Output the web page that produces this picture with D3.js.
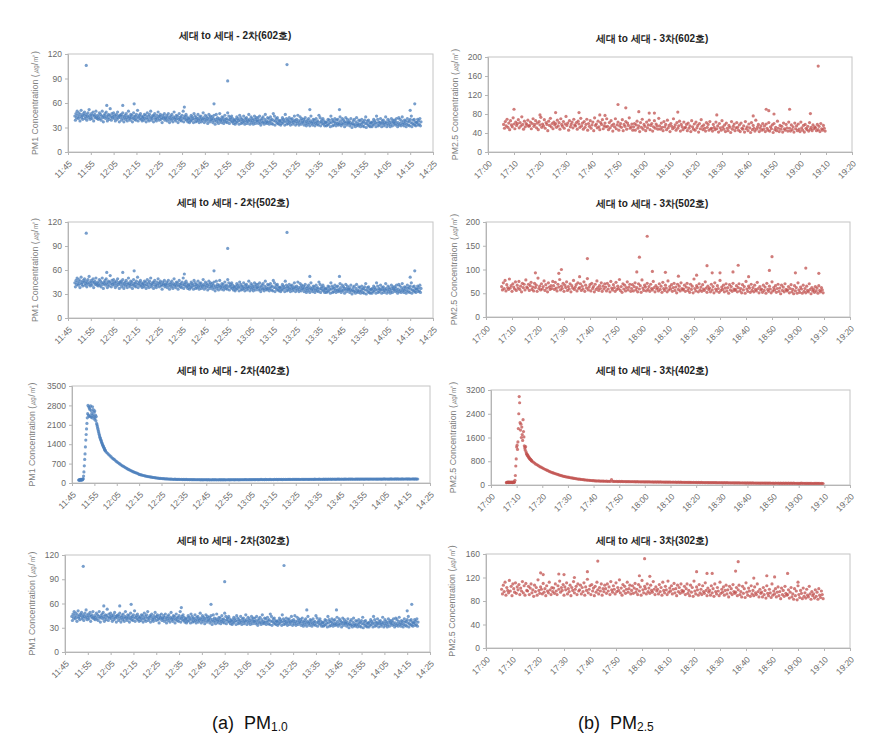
<!DOCTYPE html>
<html>
<head>
<meta charset="utf-8">
<script src="https://cdn.jsdelivr.net/npm/d3@7"></script>
<style>
  body { margin: 0; background: #fff; }
  text { font-family: "Liberation Sans", Arial, sans-serif; }
</style>
</head>
<body>
<svg id="svg" width="878" height="753"></svg>
<script>
const parseTime = d3.timeParse("%H:%M");
const fmt = d3.timeFormat("%H:%M");

// x tick labels
const pm1TimeTicks = ["11:45", "11:55", "12:05", "12:15", "12:25", "12:35", "12:45", "12:55",
  "13:05", "13:15", "13:25", "13:35", "13:45", "13:55", "14:05", "14:15", "14:25"];
const pm25TimeTicks = ["17:00", "17:10", "17:20", "17:30", "17:40", "17:50", "18:00", "18:10",
  "18:20", "18:30", "18:40", "18:50", "19:00", "19:10", "19:20"];

// y tick labels
const pm1BandTicks = [0, 30, 60, 90, 120];
const pm1PeakTicks = [0, 700, 1400, 2100, 2800, 3500];
const pm25Ticks602 = [0, 40, 80, 120, 160, 200];
const pm25Ticks502 = [0, 50, 100, 150, 200];
const pm25Ticks402 = [0, 800, 1600, 2400, 3200];
const pm25Ticks302 = [0, 40, 80, 120, 160];

// 2차 PM1, readings every 15 s from 11:48 (602, 502, 302 show the same record)
const pm1Band = `
44 39 47 42 50 45 41 48 43 38 46 51 42 44 40 47 45 49 41 43 46 39 44 48 42 52 45 40 43 47 41 45 49 38 44 46 42 50 43 41
45 40 43 48 41 46 39 44 50 42 37 45 43 47 41 49 44 38 42 46 40 45 53 43 39 47 42 44 48 41 45 38 43 46 40 49 42 44 37 45
42 46 39 44 48 41 37 43 45 40 47 42 38 44 50 41 43 39 46 42 45 37 41 48 43 40 44 39 46 42 51 38 43 45 41 47 40 44 38 42
43 39 46 41 45 37 42 48 40 44 38 46 42 50 39 43 41 45 37 44 47 40 42 38 45 41 49 43 39 44 46 40 42 36 45 41 43 47 39 42
41 45 38 43 47 40 36 42 44 39 46 41 37 43 49 40 42 38 45 41 44 36 40 47 42 39 43 38 45 41 50 37 42 44 40 46 39 43 37 41
40 36 42 38 45 39 43 41 36 47 40 44 37 42 38 41 46 39 36 43 40 44 37 41 39 48 42 36 40 45 38 43 41 35 39 46 42 37 44 40
39 43 36 41 45 38 34 40 46 37 42 39 35 41 47 38 40 36 43 39 42 35 38 45 40 37 41 36 48 39 44 35 40 42 38 44 37 41 35 39
38 34 40 36 43 37 41 39 34 45 38 42 35 40 36 39 44 37 34 41 38 42 35 39 37 46 40 34 38 43 36 41 39 34 37 44 40 35 42 38
38 42 35 39 44 36 33 39 41 36 43 37 34 40 46 36 38 35 42 37 41 34 37 43 39 35 40 34 47 38 44 33 38 41 36 42 35 39 34 38
37 33 39 35 42 36 40 38 33 46 37 41 34 39 35 38 42 36 33 40 37 41 34 38 36 44 39 33 37 40 35 45 38 33 36 43 39 34 41 37
36 40 33 38 42 35 32 37 39 34 41 36 32 38 44 35 37 33 40 36 39 32 35 41 37 34 38 33 45 36 42 32 37 39 35 41 34 38 32 36
36 32 37 33 40 34 39 36 31 44 36 40 32 38 33 37 41 35 32 39 35 40 33 36 34 43 38 32 35 41 34 39 37 31 35 42 37 33 40 36
35 38 32 36 41 34 30 35 38 33 40 34 31 37 42 33 35 32 39 34 38 31 34 40 36 32 37 31 39 35 43 30 35 38 33 39 32 36 31 35
36 31 37 33 40 34 38 36 31 44 35 40 32 37 33 36 41 35 31 38 35 39 32 36 34 43 37 31 35 40 33 38 36 31 34 41 37 32 39 36
35 39 33 37 41 34 31 36 42 33 40 35 32 38 43 34 36 32 39 35 38 31 34 41 37 33 38 32 40 36 44 31 35 39 34 40 33 37 32 36
36 40 33 38 34 41 32 37`;
const pm1BandOutliers = [["11:53", 106], ["12:55", 87], ["13:21", 107], ["12:49", 59], ["14:17", 59],
  ["12:14", 59], ["12:09", 57], ["12:02", 57], ["12:36", 55], ["13:44", 52], ["14:15", 51], ["13:31", 52]];

// 2차(402호) PM1: 10 s readings over the peak, then 30 s readings
const pm1Peak402 = `
105 118 98 125 110 132 100 115 128 108 120 135
160 250 400 620 850 1050 1300 1550 1750 1950 2150 2350
2500 2800 2450 2750 2400 2700 2650 2420 2780 2380 2600 2500
2350 2750 2450 2650 2400 2550 2300 2600 2350 2450 2250 2400
2150 2100 2040 1980 1920 1860 1800 1750 1700 1650 1610 1570
1530 1490 1450 1420 1380 1350 1320 1290 1260 1230 1200 1180`;
const pm1Tail402 = `
1150 1100 1060 1020 980 940 900 870 840 800
770 740 710 680 650 620 600 575 550 525
500 480 460 440 420 400 385 370 355 340
310 300 290 280 270 260 250 240 232 225
218 210 204 198 192 186 180 175 170 166
162 158 155 152 149 146 144 142 140 138
136 132 138 130 134 128 133 127 131 125
129 124 130 122 127 121 126 120 125 119
123 118 124 117 122 116 121 115 120 117
119 114 121 116 118 113 120 115 119 114
118 115 121 113 119 116 120 114 118 117
121 115 119 117 122 116 120 118 123 116
121 118 124 117 122 119 125 118 123 120
124 119 126 121 123 127 120 125 122 128
123 126 121 128 124 127 122 129 125 127
124 130 126 128 123 131 127 129 125 132
127 130 126 133 128 131 127 134 129 132
128 134 130 132 127 135 131 133 129 136
131 134 129 136 132 135 130 137 133 135
132 137 134 136 131 138 134 137 133 139
135 138 133 140 136 138 134 141 137 139
136 140 135 139 137 142 136 140 138 141
137 141 136 143 139 140 137 142 138 144
139 142 137 144 140 143 138 145 141 143
140 144 139 142 141 145 139 143 142 146
141 145 140 143 142 146 140 144 143 147
142 146 141 144 143 147 141 145 144 148
143 147 142 145 144 146 142 148 143 145`;

// 3차 PM2.5, readings every 20 s from 17:06
const pm25Band602 = `
58 50 64 55 69 52 61 47 66 57 53 72 59 49 63 56 60 68 51 62 55 74 58 48 65 53 60 57 67 54
56 63 49 60 70 54 58 66 51 61 47 64 57 73 52 59 55 68 50 62 58 45 65 56 71 53 60 49 63 57
60 52 67 55 62 48 70 58 54 64 50 59 75 56 61 46 66 53 58 63 51 69 57 55 62 48 65 59 52 71
55 61 48 64 52 58 69 46 60 54 66 50 57 63 45 72 56 59 51 65 53 47 62 58 68 49 55 61 53 70
54 47 62 51 66 56 44 59 53 70 49 57 63 46 55 60 52 68 45 58 54 64 48 61 56 72 50 53 59 46
53 60 46 57 65 50 55 43 62 52 69 48 58 54 45 63 51 57 67 47 56 60 44 53 66 50 59 55 48 71
55 48 61 52 45 64 53 58 47 67 51 56 43 60 54 49 70 52 57 46 62 50 55 65 44 58 53 47 63 51
52 58 45 61 50 55 43 66 53 48 59 46 63 51 56 42 60 49 68 54 47 57 50 44 62 52 58 46 64 49
50 44 58 52 47 63 49 55 42 60 51 46 66 53 48 57 43 61 50 45 56 52 41 64 48 54 59 45 51 62
52 46 57 43 61 50 48 55 42 64 49 53 45 59 51 41 62 47 56 50 44 67 48 53 58 43 50 55 46 60
48 55 43 59 50 46 62 44 53 49 57 41 60 47 52 45 65 50 43 56 48 54 42 61 49 46 58 51 44 63
50 44 57 47 53 42 61 49 55 45 59 48 43 63 51 46 56 42 58 50 47 54 44 62 48 52 45 57 49 53
51 45 58 47 54 43 60 49 46 56 50 44`;
const pm25Outliers602 = [["17:10", 90], ["17:20", 78], ["17:26", 83], ["17:35", 83], ["17:43", 78],
  ["17:45", 77], ["17:50", 100], ["17:53", 93], ["17:58", 85], ["18:02", 82], ["18:04", 82],
  ["18:13", 84], ["18:28", 78], ["18:42", 76], ["18:47", 90], ["18:48", 87], ["18:50", 80],
  ["18:56", 90], ["19:04", 81], ["19:07", 181]];

const pm25Band502 = `
64 57 72 60 77 55 68 62 58 80 61 66 54 70 63 59 74 56 67 61 75 58 65 53 71 62 69 57 78 63
61 69 56 66 73 58 63 55 71 62 67 54 82 60 65 57 70 59 64 76 56 68 61 53 72 63 58 66 60 75
66 58 73 61 55 69 63 79 57 65 60 71 54 67 62 74 56 64 59 70 53 66 61 77 58 63 68 55 72 60
62 70 56 65 59 74 54 67 61 81 57 63 68 55 71 60 64 53 69 58 76 62 56 66 60 72 54 65 59 70
63 55 71 59 66 53 75 61 57 68 62 54 73 58 65 60 79 56 64 52 70 59 67 55 62 74 57 63 69 54
60 68 55 64 72 57 62 53 70 59 66 52 78 61 56 67 63 55 71 58 64 54 69 60 57 75 62 53 66 59
62 55 70 58 65 52 73 60 56 67 61 53 76 57 64 59 68 54 62 71 56 63 51 69 58 65 55 72 60 57
59 67 54 63 71 56 61 52 69 58 65 51 80 60 55 66 62 53 70 57 63 54 68 59 56 74 61 52 65 58
61 53 69 57 64 51 72 59 55 66 60 52 77 56 63 58 67 53 61 70 55 62 50 68 57 64 54 71 59 56
58 66 53 62 70 55 60 51 68 57 64 50 75 59 54 65 61 52 69 56 62 53 67 58 55 73 60 51 64 57
59 52 67 56 63 50 71 58 54 65 59 51 74 55 62 57 66 52 60 69 54 61 49 67 56 63 53 70 58 55
57 64 51 60 68 53 58 49 66 55 62 50 72 57 52 63 59 50 67 54 60 51 65 56 53 70 58 49 62 55
58 52 64 55 61 50 66 56 53 62 57 51`;
const pm25Outliers502 = [["17:19", 93], ["17:28", 92], ["17:29", 100], ["17:36", 85], ["17:39", 123],
  ["17:58", 95], ["17:59", 126], ["18:02", 170], ["18:04", 96], ["18:09", 94], ["18:14", 86],
  ["18:21", 88], ["18:25", 108], ["18:27", 93], ["18:30", 93], ["18:35", 95], ["18:37", 109],
  ["18:41", 85], ["18:50", 127], ["18:49", 98], ["18:59", 93], ["19:03", 103], ["19:08", 92]];

// 3차(402호) PM2.5: 10 s readings over the peak, then 30 s readings
const pm25Peak402 = `
80 92 85 98 88 95 82 90 100 86 93 84 96 89 81 94 87 99
91 97 160 320 640 880
1280 1340 1200 1450 1900 2400
2980 2770 2100 1850 2050 1600
1950 1700 1500 2200 1800 1620
1320 1250 1180 1290 1120 1060
1040 990 1010 950 960 920
900 880 870 850 840 820`;
const pm25Tail402 = `
800 770 740 700 680 650 620 600 580 555
530 510 490 470 450 430 415 400 385 370
355 340 325 315 300 290 280 270 262 255
245 238 230 222 215 208 200 195 190 185
178 173 168 165 160 156 152 148 145 142
138 135 140 130 134 128 131 126 129 124
127 122 180 120 125 118 123 117 121 116
119 114 118 112 117 111 115 110 114 109
112 108 111 106 110 105 109 104 108 103
107 102 106 101 105 100 104 99 103 98
102 97 101 96 100 95 99 94 98 93
97 92 96 91 95 90 94 89 93 88
92 87 91 86 90 85 89 84 88 83
87 82 86 81 85 80 84 79 83 78
82 78 81 77 80 76 79 75 78 74
78 73 77 72 76 71 75 70 74 69
74 69 73 68 72 67 71 66 70 65
70 65 69 64 68 63 67 62 66 61
67 62 66 61 65 60 64 59 63 58
64 59 63 58 62 57 61 56 60 55
62 57 61 56 60 55 59 54 58 53
60 55 59 54 58 53 57 52 56 51
58 53 57 52 56 51 55 50`;

const pm25Band302 = `
100 92 107 96 112 90 103 98 94 115 97 105 89 109 101 95 111 93 104 99 108 91 102 97 113 94 106 90 110 98
97 105 91 102 109 94 99 88 107 96 103 90 116 98 93 104 100 92 110 95 101 89 106 97 94 112 99 91 103 96
102 93 109 97 91 106 100 114 95 103 98 108 90 104 99 111 92 101 96 107 89 103 98 113 94 100 105 91 109 97
99 107 92 103 96 111 90 104 98 117 94 100 106 91 108 97 102 89 105 95 112 99 92 103 97 109 90 101 96 107
101 93 109 97 104 91 113 99 95 106 100 92 111 96 103 98 116 94 102 90 108 97 105 93 100 112 95 101 107 92
98 106 93 102 110 95 100 91 108 97 104 90 115 99 94 105 101 92 109 96 102 93 107 98 95 113 100 91 104 97
100 92 108 96 103 90 112 98 94 105 99 91 114 95 102 97 106 92 100 110 94 101 89 107 96 103 93 109 98 95
97 105 91 101 109 93 98 89 107 95 103 88 114 97 92 104 99 90 108 94 100 91 106 96 93 111 98 89 102 95
98 90 106 94 101 88 109 96 92 103 97 89 112 93 100 95 104 90 98 107 92 99 87 105 94 101 91 108 96 93
95 103 89 99 107 91 96 87 105 93 101 86 111 95 90 102 97 88 106 92 98 89 104 94 91 109 96 87 100 93
95 87 103 91 98 85 106 93 89 100 94 86 109 90 97 92 101 87 95 104 89 96 84 102 91 98 88 105 93 90
91 99 85 95 103 87 92 83 101 89 97 82 106 91 86 98 93 84 102 88 94 85 100 90 87 105 92 83 96 89
92 85 99 88 95 83 101 90 86 97 91 84`;
const pm25Outliers302 = [["17:21", 128], ["17:22", 125], ["17:28", 126], ["17:30", 125], ["17:34", 120],
  ["17:39", 130], ["17:43", 148], ["17:59", 123], ["18:01", 152], ["18:03", 122], ["18:21", 130],
  ["18:25", 127], ["18:27", 127], ["18:36", 131], ["18:37", 147], ["18:43", 119], ["18:48", 123],
  ["18:51", 121], ["18:56", 127], ["19:00", 112]];

function readings(start, stepSec, text) {
  const t0 = parseTime(start).getTime();
  return text.trim().split(/\s+/).map((v, i) => ({ t: new Date(t0 + i * stepSec * 1000), v: +v }));
}

function points(list) {
  return list.map(([t, v]) => ({ t: parseTime(t), v: v }));
}

const pm1Label = "PM1 Concentration (㎍/㎥)";
const pm25Label = "PM2.5 Concentration (㎍/㎥)";
const blue = "#4a7ebb";
const red = "#c0504d";

const panels = [
  { title: "세대 to 세대 - 2차(602호)", titleX: 235, titleY: 39, box: [68, 54, 433, 152], labelX: 35,
    label: pm1Label, xTicks: pm1TimeTicks, yTicks: pm1BandTicks, color: blue,
    data: readings("11:48", 15, pm1Band).concat(points(pm1BandOutliers)) },
  { title: "세대 to 세대 - 2차(502호)", titleX: 233, titleY: 206, box: [68, 222, 433, 318], labelX: 35,
    label: pm1Label, xTicks: pm1TimeTicks, yTicks: pm1BandTicks, color: blue,
    data: readings("11:48", 15, pm1Band).concat(points(pm1BandOutliers)) },
  { title: "세대 to 세대 - 2차(402호)", titleX: 233, titleY: 374, box: [72, 386, 430, 483], labelX: 32,
    label: pm1Label, xTicks: pm1TimeTicks, yTicks: pm1PeakTicks, color: blue,
    data: readings("11:48", 10, pm1Peak402).concat(readings("12:00", 30, pm1Tail402)) },
  { title: "세대 to 세대 - 2차(302호)", titleX: 233, titleY: 544, box: [65, 555, 430, 652], labelX: 32,
    label: pm1Label, xTicks: pm1TimeTicks, yTicks: pm1BandTicks, color: blue,
    data: readings("11:48", 15, pm1Band).concat(points(pm1BandOutliers)) },
  { title: "세대 to 세대 - 3차(602호)", titleX: 652, titleY: 42, box: [488, 57, 852, 152], labelX: 455,
    label: pm25Label, xTicks: pm25TimeTicks, yTicks: pm25Ticks602, color: red,
    data: readings("17:06", 20, pm25Band602).concat(points(pm25Outliers602)) },
  { title: "세대 to 세대 - 3차(502호)", titleX: 652, titleY: 207, box: [486, 222, 850, 317], labelX: 454,
    label: pm25Label, xTicks: pm25TimeTicks, yTicks: pm25Ticks502, color: red,
    data: readings("17:06", 20, pm25Band502).concat(points(pm25Outliers502)) },
  { title: "세대 to 세대 - 3차(402호)", titleX: 652, titleY: 374, box: [491, 390, 850, 485], labelX: 453,
    label: pm25Label, xTicks: pm25TimeTicks, yTicks: pm25Ticks402, color: red,
    data: readings("17:06", 10, pm25Peak402).concat(readings("17:16", 30, pm25Tail402)) },
  { title: "세대 to 세대 - 3차(302호)", titleX: 652, titleY: 544, box: [486, 554, 850, 648], labelX: 452,
    label: pm25Label, xTicks: pm25TimeTicks, yTicks: pm25Ticks302, color: red,
    data: readings("17:06", 20, pm25Band302).concat(points(pm25Outliers302)) }
];

const svg = d3.select("#svg");

function drawPanel(p) {
  const [x0, y0, x1, y1] = p.box;
  const x = d3.scaleTime()
    .domain([parseTime(p.xTicks[0]), parseTime(p.xTicks[p.xTicks.length - 1])])
    .range([x0, x1]);
  const y = d3.scaleLinear().domain([0, d3.max(p.yTicks)]).range([y1, y0]);
  const g = svg.append("g");

  g.append("rect")
    .attr("x", x0).attr("y", y0)
    .attr("width", x1 - x0).attr("height", y1 - y0)
    .attr("fill", "none").attr("stroke", "#c4c4c4");

  const yAxis = g.append("g")
    .attr("transform", `translate(${x0},0)`)
    .call(d3.axisLeft(y).tickValues(p.yTicks).tickSize(3).tickPadding(3).tickFormat(d3.format("d")));

  const xAxis = g.append("g")
    .attr("transform", `translate(0,${y1})`)
    .call(d3.axisBottom(x).tickValues(p.xTicks.map(parseTime)).tickSize(3).tickFormat(fmt));

  xAxis.selectAll("text")
    .attr("y", 0).attr("dy", "0.35em")
    .attr("text-anchor", "end")
    .attr("transform", "translate(2,10) rotate(-45)");

  [xAxis, yAxis].forEach((a) => {
    a.selectAll(".domain, line").attr("stroke", "#b5b5b5");
    a.selectAll("text").attr("fill", "#6a6a6a").attr("font-size", 8.5);
  });

  g.append("g")
    .selectAll("circle")
    .data(p.data)
    .join("circle")
    .attr("cx", (d) => x(d.t))
    .attr("cy", (d) => y(d.v))
    .attr("r", 1.6)
    .attr("fill", p.color)
    .attr("fill-opacity", 0.75);

  g.append("text")
    .attr("x", p.titleX).attr("y", p.titleY)
    .attr("text-anchor", "middle")
    .attr("font-family", "Noto Sans CJK KR")
    .attr("font-weight", "bold")
    .attr("font-size", 10)
    .attr("fill", "#222")
    .text(p.title);

  g.append("text")
    .attr("transform", `translate(${p.labelX},${(y0 + y1) / 2}) rotate(-90)`)
    .attr("text-anchor", "middle")
    .attr("dy", "0.35em")
    .attr("font-size", 8.8)
    .attr("fill", "#808080")
    .text(p.label);
}

panels.forEach(drawPanel);

const captions = [
  { x: 212, sub: "1.0", lead: "(a)\u00a0\u00a0PM" },
  { x: 578, sub: "2.5", lead: "(b)\u00a0\u00a0PM" }
];

captions.forEach((c) => {
  const t = svg.append("text")
    .attr("x", c.x).attr("y", 729)
    .attr("font-family", "Noto Sans")
    .attr("font-size", 18)
    .attr("fill", "#111");
  t.append("tspan").text(c.lead);
  t.append("tspan").attr("font-size", 12).attr("dy", 2).text(c.sub);
});
</script>
</body>
</html>
